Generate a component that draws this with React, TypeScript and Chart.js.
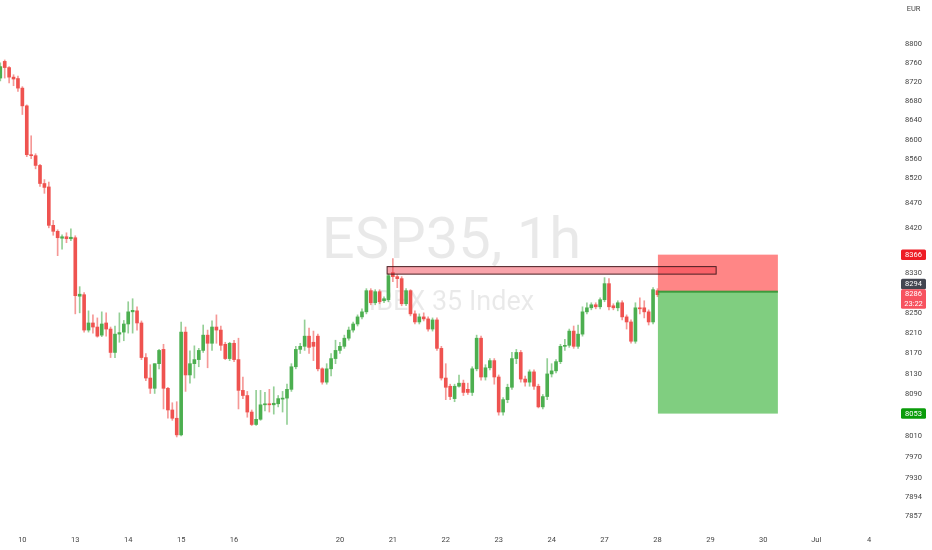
import { useEffect, useRef } from "react"
import { Chart, registerables } from "chart.js"

Chart.register(...registerables)

// hourly ESP35 candles, 12 bars per trading day (Jun 9 late -> Jun 28 early)
const opens = [
  8728, 8763, 8750, 8730, 8727, 8707, 8670, 8569, 8567, 8547, 8510, 8503, 8425, 8413, 8399, 8402, 8398, 8400, 8283, 8286,
  8216, 8230, 8222, 8206, 8230, 8218, 8172, 8208, 8212, 8228, 8252, 8254, 8230, 8162, 8122, 8102, 8150, 8178, 8102, 8060,
  8044, 8012, 8212, 8128, 8150, 8158, 8176, 8206, 8190, 8222, 8216, 8188, 8160, 8190, 8158, 8098, 8088, 8056, 8032, 8042,
  8070, 8072, 8070, 8072, 8081, 8083, 8100, 8144, 8178, 8184, 8204, 8192, 8204, 8140, 8114, 8140, 8160, 8176, 8184, 8200,
  8216, 8228, 8242, 8252, 8294, 8270, 8292, 8274, 8276, 8330, 8322, 8318, 8268, 8294, 8248, 8232, 8242, 8238, 8218, 8236,
  8180, 8122, 8106, 8082, 8106, 8112, 8100, 8094, 8140, 8200, 8124, 8142, 8156, 8124, 8056, 8080, 8104, 8160, 8172, 8120,
  8114, 8134, 8106, 8066, 8086, 8130, 8136, 8154, 8184, 8186, 8214, 8184, 8208, 8252, 8260, 8266, 8262, 8276, 8308, 8264,
  8260, 8270, 8242, 8232, 8194, 8260, 8260, 8252, 8232, 8294,
]
const highs = [
  8760, 8766, 8752, 8735, 8732, 8710, 8672, 8608, 8571, 8549, 8518, 8513, 8435, 8416, 8406, 8410, 8418, 8404, 8302, 8290,
  8254, 8246, 8240, 8252, 8250, 8222, 8224, 8250, 8235, 8272, 8278, 8262, 8234, 8170, 8148, 8150, 8178, 8188, 8104, 8074,
  8076, 8232, 8222, 8175, 8185, 8180, 8226, 8216, 8234, 8246, 8224, 8192, 8192, 8196, 8200, 8124, 8096, 8060, 8098, 8098,
  8094, 8100, 8105, 8088, 8096, 8110, 8150, 8184, 8190, 8236, 8220, 8214, 8208, 8142, 8150, 8170, 8196, 8192, 8206, 8222,
  8232, 8246, 8258, 8298, 8298, 8296, 8296, 8282, 8328, 8358, 8326, 8322, 8298, 8296, 8254, 8248, 8250, 8242, 8240, 8240,
  8184, 8150, 8110, 8110, 8128, 8118, 8112, 8144, 8206, 8204, 8148, 8160, 8160, 8128, 8084, 8110, 8172, 8178, 8176, 8126,
  8138, 8138, 8110, 8090, 8160, 8150, 8158, 8188, 8198, 8218, 8224, 8226, 8262, 8270, 8270, 8270, 8280, 8320, 8318, 8268,
  8274, 8274, 8246, 8236, 8270, 8280, 8274, 8256, 8300, 8298,
]
const lows = [
  8722, 8728, 8718, 8712, 8700, 8652, 8565, 8561, 8540, 8504, 8490, 8420, 8405, 8364, 8377, 8390, 8394, 8248, 8250, 8212,
  8212, 8210, 8202, 8203, 8204, 8162, 8162, 8192, 8195, 8210, 8210, 8216, 8158, 8117, 8092, 8092, 8140, 8062, 8044, 8040,
  8008, 8010, 8096, 8112, 8122, 8144, 8172, 8142, 8176, 8190, 8176, 8158, 8156, 8154, 8062, 8082, 8046, 8030, 8030, 8040,
  8058, 8056, 8052, 8066, 8056, 8032, 8096, 8140, 8170, 8176, 8170, 8156, 8136, 8110, 8110, 8126, 8150, 8170, 8180, 8196,
  8212, 8224, 8238, 8248, 8266, 8266, 8268, 8270, 8272, 8312, 8300, 8264, 8264, 8244, 8228, 8228, 8234, 8214, 8214, 8176,
  8118, 8080, 8080, 8076, 8104, 8088, 8090, 8088, 8136, 8118, 8118, 8138, 8110, 8050, 8050, 8074, 8100, 8150, 8114, 8106,
  8106, 8100, 8064, 8062, 8080, 8124, 8132, 8150, 8176, 8182, 8180, 8180, 8204, 8248, 8256, 8258, 8258, 8272, 8256, 8256,
  8254, 8236, 8218, 8190, 8190, 8248, 8240, 8226, 8228, 8282,
]
const closes = [
  8752, 8750, 8730, 8726, 8707, 8670, 8569, 8567, 8547, 8510, 8502, 8425, 8413, 8400, 8402, 8398, 8401, 8284, 8287, 8216,
  8230, 8222, 8204, 8228, 8218, 8172, 8208, 8211, 8228, 8252, 8255, 8230, 8162, 8122, 8102, 8150, 8176, 8102, 8060, 8044,
  8012, 8212, 8128, 8150, 8158, 8176, 8206, 8190, 8222, 8216, 8186, 8160, 8190, 8158, 8098, 8088, 8056, 8032, 8042, 8070,
  8072, 8070, 8073, 8082, 8083, 8100, 8144, 8178, 8184, 8204, 8182, 8184, 8140, 8114, 8140, 8160, 8176, 8184, 8200, 8216,
  8228, 8242, 8252, 8294, 8270, 8292, 8272, 8278, 8324, 8322, 8318, 8268, 8294, 8248, 8232, 8242, 8238, 8218, 8236, 8180,
  8122, 8104, 8086, 8106, 8112, 8094, 8094, 8140, 8200, 8124, 8142, 8156, 8124, 8056, 8080, 8104, 8160, 8172, 8120, 8114,
  8134, 8106, 8066, 8086, 8130, 8136, 8154, 8184, 8186, 8214, 8184, 8208, 8252, 8260, 8266, 8262, 8276, 8308, 8262, 8260,
  8270, 8242, 8232, 8194, 8260, 8258, 8252, 8232, 8296, 8286,
]

const dayLabels = ["10", "13", "14", "15", "16", "", "20", "21", "22", "23", "24", "27", "28", "29", "30", "Jul", "4"]
const barsPerDay = 12
const firstDayStart = 5

const priceTicks = [
  8800, 8760, 8720, 8680, 8640, 8600, 8560, 8520, 8470, 8420, 8330, 8250, 8210, 8170, 8130, 8090, 8010, 7970, 7930,
  7894, 7857,
]

// short position tool + drawn rectangle
const stopPrice = 8366
const entryPrice = 8292
const targetPrice = 8053
const positionFrom = 149.1
const positionTo = 176.3
const boxFrom = 87.7
const boxTo = 162.3
const boxLow = 8327
const boxHigh = 8342

const lastPrice = 8286
const entryTag = 8294
const countdown = "23:22"

const UP = "#4caf50"
const DOWN = "#ef5350"
const UP_WICK = "rgba(76,175,80,0.6)"
const DOWN_WICK = "rgba(239,83,80,0.6)"

function tag(ctx: CanvasRenderingContext2D, x: number, y: number, w: number, h: number, bg: string, lines: string[]) {
  ctx.fillStyle = bg
  ctx.beginPath()
  if ((ctx as any).roundRect) (ctx as any).roundRect(x, y, w, h, 1.5)
  else ctx.rect(x, y, w, h)
  ctx.fill()
  ctx.fillStyle = "#ffffff"
  ctx.font = "7.5px Roboto"
  ctx.textAlign = "center"
  ctx.textBaseline = "middle"
  const step = h / lines.length
  lines.forEach((t, i) => ctx.fillText(t, x + w / 2, y + step * i + step / 2 + 0.5))
}

const overlayPlugin = {
  id: "overlay",
  beforeDatasetsDraw(chart: any) {
    const { ctx, chartArea } = chart
    const cx = (chartArea.left + chartArea.right) / 2 + 5
    const cy = (chartArea.top + chartArea.bottom) / 2
    ctx.save()
    ctx.fillStyle = "rgba(0,0,0,0.085)"
    ctx.textAlign = "center"
    ctx.textBaseline = "alphabetic"
    ctx.font = "58px Roboto"
    ctx.fillText("ESP35, 1h", cx, cy - 6)
    ctx.font = "27px Roboto"
    ctx.fillText("IBEX 35 Index", cx, cy + 46)
    ctx.restore()
  },
  afterDatasetsDraw(chart: any) {
    const { ctx, scales } = chart
    const x = scales.x
    const y = scales.y
    ctx.save()

    // position tool
    const px0 = x.getPixelForValue(positionFrom)
    const px1 = x.getPixelForValue(positionTo)
    const yStop = y.getPixelForValue(stopPrice)
    const yEntry = y.getPixelForValue(entryPrice)
    const yTarget = y.getPixelForValue(targetPrice)
    ctx.fillStyle = "rgba(255,82,82,0.7)"
    ctx.fillRect(px0, yStop, px1 - px0, yEntry - yStop)
    ctx.fillStyle = "rgba(60,180,60,0.65)"
    ctx.fillRect(px0, yEntry, px1 - px0, yTarget - yEntry)
    ctx.fillStyle = "#3d9a3d"
    ctx.fillRect(px0, yEntry - 1, px1 - px0, 2)

    // rectangle drawing
    const bx0 = x.getPixelForValue(boxFrom)
    const bx1 = x.getPixelForValue(boxTo)
    const by0 = y.getPixelForValue(boxHigh)
    const by1 = y.getPixelForValue(boxLow)
    ctx.fillStyle = "rgba(242,54,69,0.45)"
    ctx.fillRect(bx0, by0, bx1 - bx0, by1 - by0)
    ctx.strokeStyle = "#4a1e22"
    ctx.lineWidth = 1
    ctx.strokeRect(bx0, by0, bx1 - bx0, by1 - by0)

    // price axis tags
    const tx = chart.chartArea.right + 8
    const tw = 25
    tag(ctx, tx, yStop - 5.25, tw, 10.5, "#ee1c25", [String(stopPrice)])
    const pe = y.getPixelForValue(entryTag)
    tag(ctx, tx, pe - 12, tw, 10.5, "#434651", [String(entryTag)])
    tag(ctx, tx, pe - 1.5, tw, 19.5, "#f7525f", [String(lastPrice), countdown])
    tag(ctx, tx, yTarget - 5.25, tw, 10.5, "#0a9c0a", [String(targetPrice)])

    ctx.fillStyle = "#444"
    ctx.font = "7.5px Roboto"
    ctx.textAlign = "center"
    ctx.textBaseline = "middle"
    ctx.fillText("EUR", tx + tw / 2, 9)
    ctx.restore()
  },
}

export default function App() {
  const chartRef = useRef<HTMLCanvasElement>(null)
  const chartInstance = useRef<Chart | null>(null)

  useEffect(() => {
    document.body.style.margin = "0"
    if (!chartRef.current) return
    if (chartInstance.current) chartInstance.current.destroy()
    const ctx = chartRef.current.getContext("2d")
    if (!ctx) return

    const colors = opens.map((o, i) => (closes[i] >= o ? UP : DOWN))
    const wickColors = opens.map((o, i) => (closes[i] >= o ? UP_WICK : DOWN_WICK))
    const dayStarts = dayLabels.map((_, n) => firstDayStart + n * barsPerDay)

    Chart.defaults.font.family = "Roboto"

    chartInstance.current = new Chart(ctx, {
      type: "bar",
      data: {
        datasets: [
          {
            data: highs.map((h, i) => ({ x: i, y: [lows[i], h] })) as any,
            backgroundColor: wickColors,
            barThickness: 1,
            grouped: false,
          } as any,
          {
            data: opens.map((o, i) => ({ x: i, y: [o, closes[i]] })) as any,
            backgroundColor: colors,
            barThickness: 3,
            minBarLength: 1,
            grouped: false,
          } as any,
        ],
      },
      options: {
        animation: false,
        responsive: true,
        maintainAspectRatio: false,
        layout: { padding: 0 },
        plugins: { legend: { display: false }, tooltip: { enabled: false } },
        scales: {
          x: {
            type: "linear",
            min: -0.07,
            max: 202.4,
            offset: false,
            grid: { display: false, drawTicks: false },
            border: { display: false },
            afterBuildTicks: (scale: any) => {
              scale.ticks = dayStarts.filter((_, n) => dayLabels[n] !== "").map((v) => ({ value: v }))
            },
            afterFit: (scale: any) => {
              scale.height = 22
              scale.paddingLeft = 0
              scale.paddingRight = 0
            },
            ticks: {
              autoSkip: false,
              maxRotation: 0,
              padding: 8,
              color: "#444",
              font: { size: 7.5 },
              callback: (v: any) => dayLabels[dayStarts.indexOf(Number(v))] ?? "",
            },
          },
          y: {
            type: "logarithmic",
            position: "right",
            min: 7835,
            max: 8893,
            grid: { display: false, drawTicks: false },
            border: { display: false },
            afterBuildTicks: (scale: any) => {
              scale.ticks = priceTicks.map((v) => ({ value: v }))
            },
            afterFit: (scale: any) => {
              scale.width = 39
              scale.paddingTop = 0
              scale.paddingBottom = 0
            },
            ticks: {
              autoSkip: false,
              crossAlign: "near",
              padding: 12,
              color: "#444",
              font: { size: 7.5 },
              callback: (v: any) => String(v),
            },
          },
        },
      },
      plugins: [overlayPlugin],
    })

    return () => {
      if (chartInstance.current) {
        chartInstance.current.destroy()
        chartInstance.current = null
      }
    }
  }, [])

  return (
    <div style={{ width: 932, height: 550, background: "#fff" }}>
      <canvas ref={chartRef}></canvas>
    </div>
  )
}
